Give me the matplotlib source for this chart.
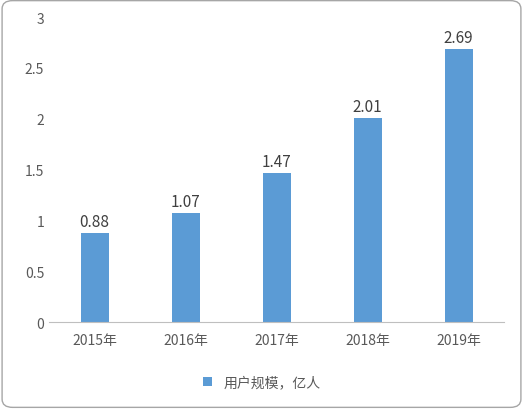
import matplotlib.pyplot as plt
from matplotlib.patches import FancyBboxPatch

plt.rcParams["font.family"] = ["Noto Sans CJK SC", "DejaVu Sans"]

years = ["2015年", "2016年", "2017年", "2018年", "2019年"]
users = [0.88, 1.07, 1.47, 2.01, 2.69]
series_name = "用户规模，亿人"

fig = plt.figure(figsize=(5.23, 4.10), dpi=100)
fig.patches.append(FancyBboxPatch((0.004, 0.004), 0.992, 0.992,
                                  boxstyle="round,pad=0,rounding_size=0.02",
                                  transform=fig.transFigure, facecolor="none",
                                  edgecolor="#A6A6A6", linewidth=1, zorder=-1))

ax = fig.add_axes([0.094, 0.212, 0.870, 0.744])
ax.set_facecolor("none")
bars = ax.bar(range(len(years)), users, width=0.31, color="#5B9BD5", label=series_name)
for b, v in zip(bars, users):
    ax.text(b.get_x() + b.get_width() / 2, v + 0.03, f"{v:.2f}",
            ha="center", va="bottom", fontsize=11, color="#404040")

ax.set_xlim(-0.5, 4.5)
ax.set_ylim(0, 3)
ax.set_yticks([0, 0.5, 1, 1.5, 2, 2.5, 3])
ax.set_yticklabels(["0", "0.5", "1", "1.5", "2", "2.5", "3"])
ax.set_xticks(range(len(years)))
ax.set_xticklabels(years)
ax.tick_params(colors="#595959", labelsize=10, length=0)
ax.tick_params(axis="x", pad=8)
for s in ["left", "right", "top"]:
    ax.spines[s].set_visible(False)
ax.spines["bottom"].set_color("#BFBFBF")

fig.legend(handles=[bars], labels=[series_name], loc="center",
           bbox_to_anchor=(0.5, 0.065), frameon=False, fontsize=10,
           handlelength=0.7, handleheight=0.7, labelcolor="#595959")

plt.savefig("out.png", dpi=100)
